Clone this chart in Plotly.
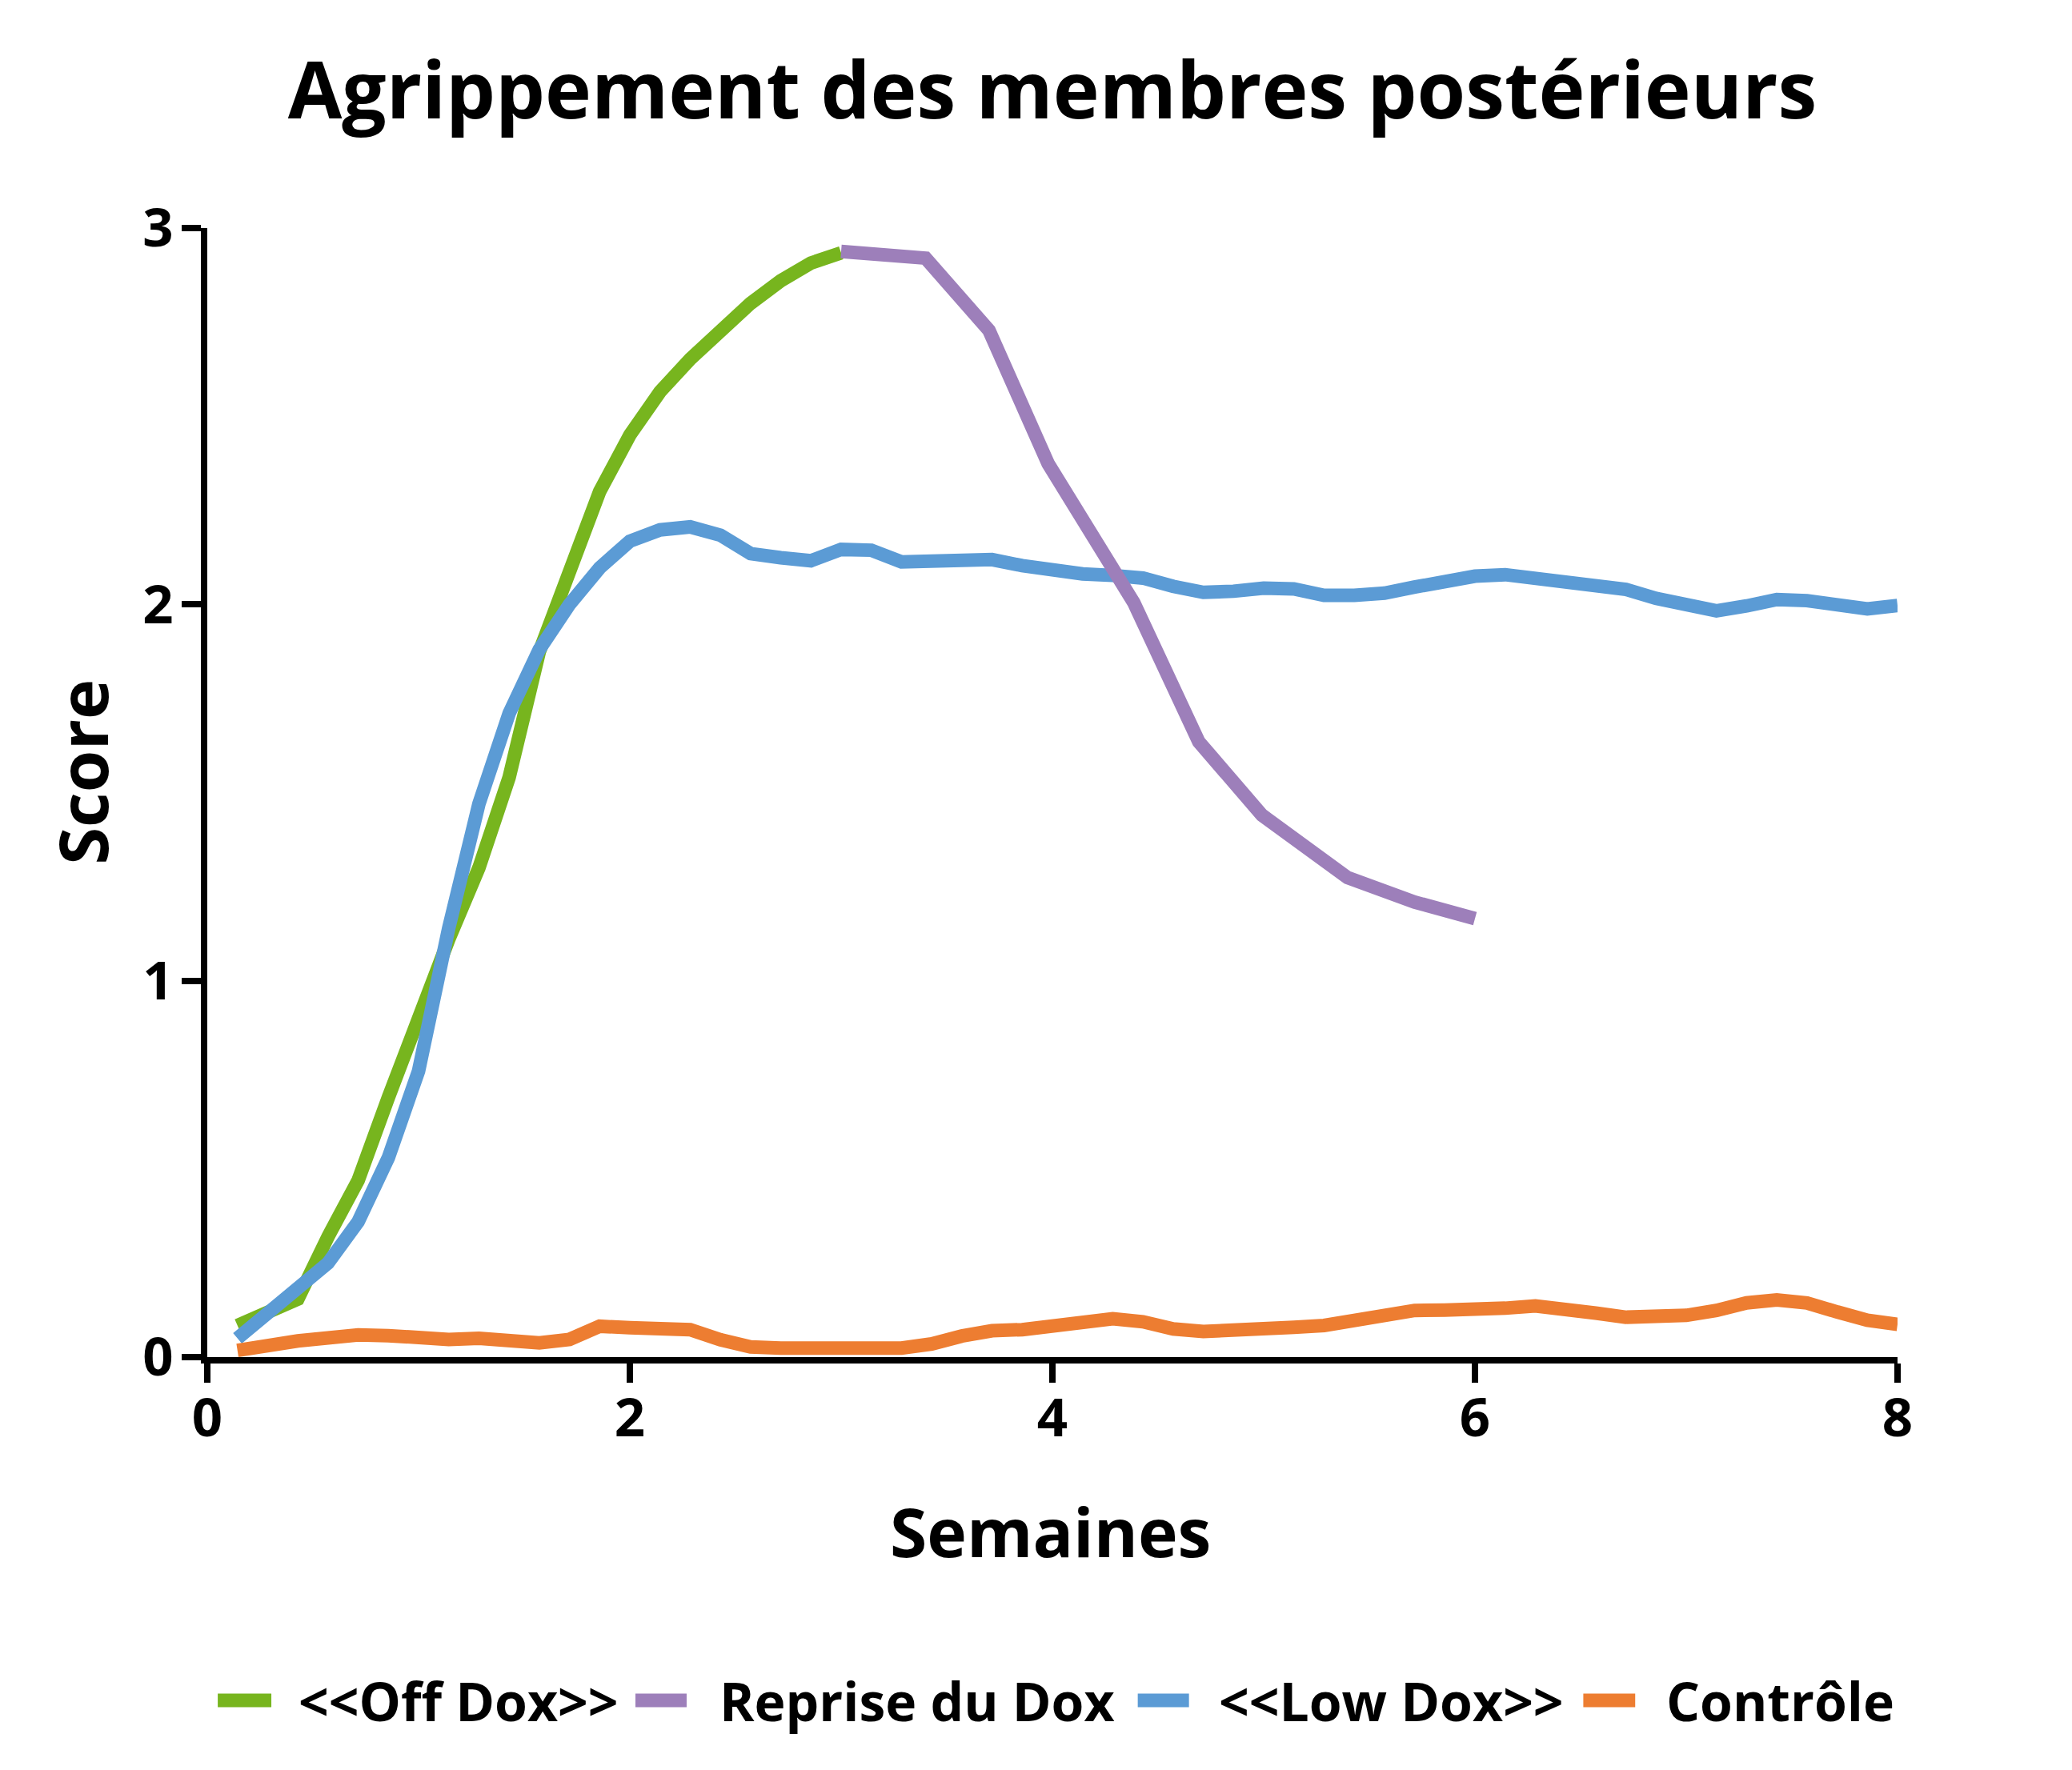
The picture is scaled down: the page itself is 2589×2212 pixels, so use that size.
import plotly.graph_objects as go

# ---- data (weeks, score) ----
off_x = [k / 7 for k in range(1, 22)]
off_y = [0.084, 0.122, 0.154, 0.32, 0.47, 0.69, 0.91, 1.11, 1.30, 1.54, 1.874,
         2.10, 2.30, 2.45, 2.565, 2.652, 2.73, 2.80, 2.86, 2.907, 2.934]

reprise_x = [3.0, 3.40, 3.70, 3.98, 4.385, 4.693, 4.992, 5.397, 5.715, 6.0]
reprise_y = [2.938, 2.92, 2.728, 2.374, 2.005, 1.635, 1.44, 1.274, 1.209, 1.165]

low_x = [k / 7 for k in range(1, 57)]
low_y = [0.05, 0.116, 0.187, 0.25, 0.36, 0.53, 0.76, 1.14, 1.47, 1.71, 1.88,
         2.0, 2.097, 2.168, 2.198, 2.206, 2.184, 2.135, 2.124, 2.116, 2.146,
         2.144, 2.113, 2.113, 2.118, 2.119, 2.103, 2.09, 2.081, 2.077, 2.07,
         2.048, 2.032, 2.035, 2.043, 2.041, 2.024, 2.024, 2.03, 2.046, 2.065,
         2.075, 2.079, 2.07, 2.065, 2.054, 2.04, 2.016, 1.996, 1.983, 1.996,
         2.013, 2.01, 1.999, 1.988, 1.997]

ctrl_x = [k / 7 for k in range(1, 57)]
ctrl_y = [0.018, 0.033, 0.043, 0.051, 0.059, 0.057, 0.05, 0.047, 0.05, 0.048,
          0.038, 0.047, 0.082, 0.078, 0.075, 0.073, 0.046, 0.027, 0.024, 0.027,
          0.03, 0.024, 0.024, 0.035, 0.056, 0.07, 0.073, 0.084, 0.098, 0.102,
          0.094, 0.075, 0.068, 0.069, 0.074, 0.079, 0.084, 0.1, 0.117, 0.124,
          0.125, 0.124, 0.13, 0.136, 0.13, 0.117, 0.106, 0.106, 0.111, 0.124,
          0.144, 0.152, 0.144, 0.12, 0.098, 0.087]

x_ticks = [0, 2, 4, 6, 8]
y_ticks = [0, 1, 2, 3]

names = ["&lt;&lt;Off Dox&gt;&gt;", "Reprise du Dox", "&lt;&lt;Low Dox&gt;&gt;", "Contrôle"]
colors = ["#77B51E", "#9D7FBA", "#5B9BD5", "#ED7D31"]

FONT = "Open Sans"
LW = 17

fig = go.Figure()
# draw order: green, blue, purple, orange
fig.add_trace(go.Scatter(x=off_x, y=off_y, mode="lines", name=names[0],
                         line=dict(color=colors[0], width=LW)))
fig.add_trace(go.Scatter(x=low_x, y=low_y, mode="lines", name=names[2],
                         line=dict(color=colors[2], width=LW)))
fig.add_trace(go.Scatter(x=reprise_x, y=reprise_y, mode="lines", name=names[1],
                         line=dict(color=colors[1], width=LW)))
fig.add_trace(go.Scatter(x=ctrl_x, y=ctrl_y, mode="lines", name=names[3],
                         line=dict(color=colors[3], width=LW)))

axis_common = dict(
    showgrid=False, zeroline=False, showline=True, linecolor="black", linewidth=8,
    ticks="outside", ticklen=24, tickwidth=8, tickcolor="black",
    tickfont=dict(family=FONT, size=67, color="black", weight=700),
)

fig.update_layout(
    width=2573, height=2196,
    paper_bgcolor="white", plot_bgcolor="white",
    margin=dict(l=251, r=210, t=277, b=508),
    title=dict(text="Agrippement des membres postérieurs",
               font=dict(family=FONT, size=98, color="black", weight=700),
               x=0.5, xref="paper", xanchor="center",
               y=0.952, yref="container", yanchor="middle"),
    xaxis=dict(range=[0, 8], tickvals=x_ticks, ticktext=[str(v) for v in x_ticks],
               ticklabelstandoff=-13, **axis_common),
    yaxis=dict(range=[0, 3], tickvals=y_ticks, ticktext=[str(v) for v in y_ticks],
               ticklabelstandoff=-3, **axis_common),
    showlegend=False,
)

# axis titles
fig.add_annotation(text="Semaines", xref="paper", yref="paper", x=0.4986, y=-0.1545,
                   xanchor="center", yanchor="middle", showarrow=False,
                   font=dict(family=FONT, size=84, color="black", weight=700))
fig.add_annotation(text="Score", xref="paper", yref="paper", x=-0.0745, y=0.518,
                   xanchor="center", yanchor="middle", showarrow=False, textangle=-90,
                   font=dict(family=FONT, size=85, color="black", weight=700))

# legend (drawn manually: thick bars + labels)
leg_sym_x0 = [0.0062, 0.2533, 0.5505, 0.8141]
leg_sym_x1 = [0.0379, 0.2836, 0.5808, 0.8448]
leg_text_x = [0.0530, 0.3022, 0.5976, 0.8620]
leg_y0, leg_y1, leg_ty = -0.310, -0.298, -0.304
for i in range(4):
    fig.add_shape(type="rect", xref="paper", yref="paper",
                  x0=leg_sym_x0[i], x1=leg_sym_x1[i], y0=leg_y0, y1=leg_y1,
                  fillcolor=colors[i], line=dict(width=0))
    fig.add_annotation(text=names[i], xref="paper", yref="paper",
                       x=leg_text_x[i], y=leg_ty, xanchor="left", yanchor="middle",
                       showarrow=False,
                       font=dict(family=FONT, size=66, color="black", weight=700))

fig.write_html("out.html")
